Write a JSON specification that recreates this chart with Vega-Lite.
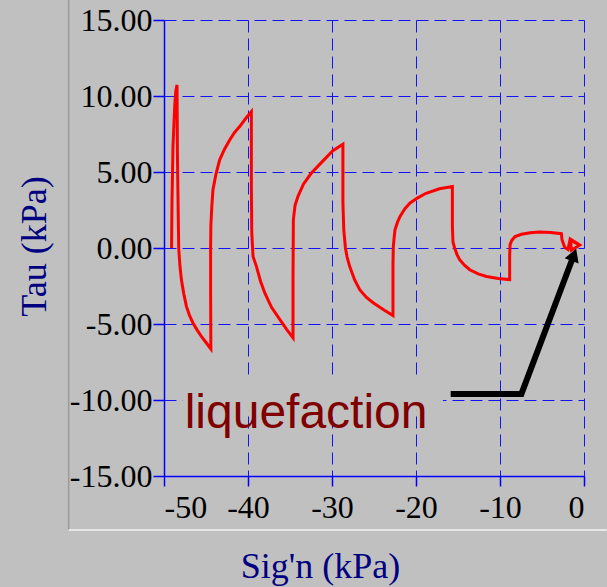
{
  "$schema": "https://vega.github.io/schema/vega-lite/v6.json",
  "width": 420,
  "height": 456,
  "autosize": {"type": "none"},
  "padding": {"left": 164, "top": 20, "right": 23, "bottom": 111},
  "background": "#c0c0c0",
  "config": {
    "view": {"stroke": null},
    "axis": {
      "domainColor": "#0000ff",
      "domainWidth": 1.5,
      "tickColor": "#0000ff",
      "tickWidth": 1.5,
      "gridColor": "#0000ff",
      "gridWidth": 1,
      "gridDash": [12, 6],
      "gridOpacity": 0.9,
      "labelFont": "Liberation Serif",
      "labelFontSize": 32,
      "labelColor": "#000000",
      "titleFont": "Liberation Serif",
      "titleFontSize": 36,
      "titleFontWeight": "normal",
      "titleColor": "#000080"
    }
  },
  "datasets": {
    "curve": [
      {"i": 1, "x": -49.1, "y": 0},
      {"i": 2, "x": -49.05, "y": 3},
      {"i": 3, "x": -48.93, "y": 6.68},
      {"i": 4, "x": -48.73, "y": 9.3},
      {"i": 5, "x": -48.6, "y": 10.3},
      {"i": 6, "x": -48.45, "y": 10.73},
      {"i": 7, "x": -48.4, "y": 6},
      {"i": 8, "x": -48.3, "y": 2},
      {"i": 9, "x": -48.25, "y": 0},
      {"i": 10, "x": -48.1, "y": -1.2},
      {"i": 11, "x": -47.93, "y": -2.08},
      {"i": 12, "x": -47.65, "y": -3.0},
      {"i": 13, "x": -47.33, "y": -3.84},
      {"i": 14, "x": -46.95, "y": -4.45},
      {"i": 15, "x": -46.55, "y": -4.93},
      {"i": 16, "x": -46.05, "y": -5.4},
      {"i": 17, "x": -45.55, "y": -5.81},
      {"i": 18, "x": -44.95, "y": -6.25},
      {"i": 19, "x": -44.42, "y": -6.64},
      {"i": 20, "x": -44.45, "y": -3},
      {"i": 21, "x": -44.45, "y": 0},
      {"i": 22, "x": -44.42, "y": 1.5},
      {"i": 23, "x": -44.3, "y": 2.8},
      {"i": 24, "x": -44.17, "y": 3.83},
      {"i": 25, "x": -43.8, "y": 4.9},
      {"i": 26, "x": -43.37, "y": 5.8},
      {"i": 27, "x": -42.8, "y": 6.5},
      {"i": 28, "x": -42.18, "y": 7.11},
      {"i": 29, "x": -41.6, "y": 7.6},
      {"i": 30, "x": -40.99, "y": 7.99},
      {"i": 31, "x": -40.3, "y": 8.5},
      {"i": 32, "x": -39.6, "y": 8.97},
      {"i": 33, "x": -39.6, "y": 4},
      {"i": 34, "x": -39.55, "y": 1.0},
      {"i": 35, "x": -39.4, "y": -0.55},
      {"i": 36, "x": -39.0, "y": -1.21},
      {"i": 37, "x": -38.5, "y": -2.2},
      {"i": 38, "x": -38.0, "y": -2.96},
      {"i": 39, "x": -37.2, "y": -3.9},
      {"i": 40, "x": -36.2, "y": -4.71},
      {"i": 41, "x": -35.4, "y": -5.35},
      {"i": 42, "x": -34.64, "y": -5.91},
      {"i": 43, "x": -34.64, "y": -2},
      {"i": 44, "x": -34.6, "y": 1.86},
      {"i": 45, "x": -34.4, "y": 2.8},
      {"i": 46, "x": -34.05, "y": 3.4},
      {"i": 47, "x": -33.4, "y": 4.2},
      {"i": 48, "x": -32.5, "y": 4.9},
      {"i": 49, "x": -31.3, "y": 5.6},
      {"i": 50, "x": -29.9, "y": 6.4},
      {"i": 51, "x": -28.7, "y": 6.82},
      {"i": 52, "x": -28.7, "y": 3},
      {"i": 53, "x": -28.6, "y": 1.2},
      {"i": 54, "x": -28.4, "y": 0},
      {"i": 55, "x": -28.2, "y": -0.6},
      {"i": 56, "x": -27.9, "y": -1.21},
      {"i": 57, "x": -27.3, "y": -2.1},
      {"i": 58, "x": -26.7, "y": -2.74},
      {"i": 59, "x": -25.9, "y": -3.25},
      {"i": 60, "x": -25.1, "y": -3.6},
      {"i": 61, "x": -23.9, "y": -4.05},
      {"i": 62, "x": -22.74, "y": -4.45},
      {"i": 63, "x": -22.74, "y": -1},
      {"i": 64, "x": -22.7, "y": 0.1},
      {"i": 65, "x": -22.6, "y": 0.7},
      {"i": 66, "x": -22.5, "y": 1.2},
      {"i": 67, "x": -22.2, "y": 1.7},
      {"i": 68, "x": -21.9, "y": 2.08},
      {"i": 69, "x": -21.3, "y": 2.6},
      {"i": 70, "x": -20.7, "y": 2.96},
      {"i": 71, "x": -19.8, "y": 3.3},
      {"i": 72, "x": -18.8, "y": 3.6},
      {"i": 73, "x": -17.2, "y": 3.9},
      {"i": 74, "x": -15.67, "y": 4.05},
      {"i": 75, "x": -15.67, "y": 1.5},
      {"i": 76, "x": -15.6, "y": 0.4},
      {"i": 77, "x": -15.4, "y": 0},
      {"i": 78, "x": -15.1, "y": -0.45},
      {"i": 79, "x": -14.8, "y": -0.77},
      {"i": 80, "x": -14.2, "y": -1.15},
      {"i": 81, "x": -13.6, "y": -1.43},
      {"i": 82, "x": -12.6, "y": -1.7},
      {"i": 83, "x": -11.6, "y": -1.87},
      {"i": 84, "x": -10.2, "y": -2.0},
      {"i": 85, "x": -8.85, "y": -2.08},
      {"i": 86, "x": -8.85, "y": -0.5},
      {"i": 87, "x": -8.8, "y": 0.22},
      {"i": 88, "x": -8.6, "y": 0.5},
      {"i": 89, "x": -8.2, "y": 0.75},
      {"i": 90, "x": -7.45, "y": 0.9},
      {"i": 91, "x": -6.4, "y": 1.0},
      {"i": 92, "x": -5.3, "y": 1.05},
      {"i": 93, "x": -4.0, "y": 1.02},
      {"i": 94, "x": -2.69, "y": 0.94},
      {"i": 95, "x": -2.62, "y": 0.55},
      {"i": 96, "x": -2.3, "y": 0.05},
      {"i": 97, "x": -1.9, "y": -0.1},
      {"i": 98, "x": -1.65, "y": 0.6},
      {"i": 99, "x": -0.5, "y": 0.2},
      {"i": 100, "x": -1.5, "y": -0.15},
      {"i": 101, "x": -1.6, "y": 0.5},
      {"i": 102, "x": -0.7, "y": 0.25}
    ],
    "arrow": [
      {"i": 1, "x": -15.87, "y": -9.6},
      {"i": 2, "x": -7.45, "y": -9.6},
      {"i": 3, "x": -1.4, "y": -0.74}
    ],
    "arrowhead": [{"x": -1.2, "y": -0.45, "dir": 20.6}],
    "label": [{"x": -47.54, "y": -11.83, "text": "liquefaction"}],
    "mask": [{"x": -47.8, "x2": -16.8, "y": -8.5, "y2": -10.7}],
    "frameLeft": [{"x": -61.35, "y": 16.4, "y2": -18.55}],
    "frameBottom": [{"x": -61.35, "x2": 2.7, "y": -18.55}]
  },
  "encoding": {
    "x": {
      "field": "x",
      "type": "quantitative",
      "scale": {"domain": [-50, 0], "nice": false, "zero": false},
      "axis": {
        "values": [-50, -40, -30, -20, -10, 0],
        "labelExpr": "replace(format(datum.value, 'd'), '\u2212', '-')",
        "tickSize": 10,
        "labelPadding": 6,
        "title": "Sig'n (kPa)",
        "titleX": 156,
        "titleY": 101,
        "titleAlign": "center",
        "titleAnchor": null,
        "titleBaseline": "alphabetic"
      }
    },
    "y": {
      "field": "y",
      "type": "quantitative",
      "scale": {"domain": [-15, 15], "nice": false, "zero": false},
      "axis": {
        "values": [-15, -10, -5, 0, 5, 10, 15],
        "labelExpr": "replace(format(datum.value, '.2f'), '\u2212', '-')",
        "tickSize": 11,
        "labelPadding": 1,
        "title": "Tau (kPa)",
        "titleX": -119,
        "titleY": 226,
        "titleAngle": -90,
        "titleAlign": "center",
        "titleAnchor": null,
        "titleBaseline": "alphabetic"
      }
    }
  },
  "layer": [
    {
      "data": {"name": "frameLeft"},
      "mark": {"type": "rule", "color": "#9a9a9a", "strokeWidth": 1.5},
      "encoding": {"y2": {"field": "y2"}}
    },
    {
      "data": {"name": "frameBottom"},
      "mark": {"type": "rule", "color": "#f4f4f4", "strokeWidth": 1.5},
      "encoding": {"x2": {"field": "x2"}}
    },
    {
      "data": {"name": "mask"},
      "mark": {"type": "rect", "color": "#c0c0c0"},
      "encoding": {"x2": {"field": "x2"}, "y2": {"field": "y2"}}
    },
    {
      "data": {"name": "curve"},
      "mark": {"type": "line", "color": "#ff0000", "strokeWidth": 3, "strokeJoin": "miter"},
      "encoding": {"order": {"field": "i", "type": "quantitative"}}
    },
    {
      "data": {"name": "arrow"},
      "mark": {"type": "line", "color": "#000000", "strokeWidth": 6, "strokeJoin": "miter", "strokeCap": "butt"},
      "encoding": {"order": {"field": "i", "type": "quantitative"}}
    },
    {
      "data": {"name": "arrowhead"},
      "mark": {"type": "point", "shape": "triangle-up", "filled": true, "color": "#000000", "opacity": 1, "size": 220},
      "encoding": {"angle": {"field": "dir", "type": "quantitative", "scale": null}}
    },
    {
      "data": {"name": "label"},
      "mark": {"type": "text", "font": "Liberation Sans", "fontSize": 48, "color": "#800000", "align": "left", "baseline": "alphabetic"},
      "encoding": {"text": {"field": "text"}}
    }
  ]
}
